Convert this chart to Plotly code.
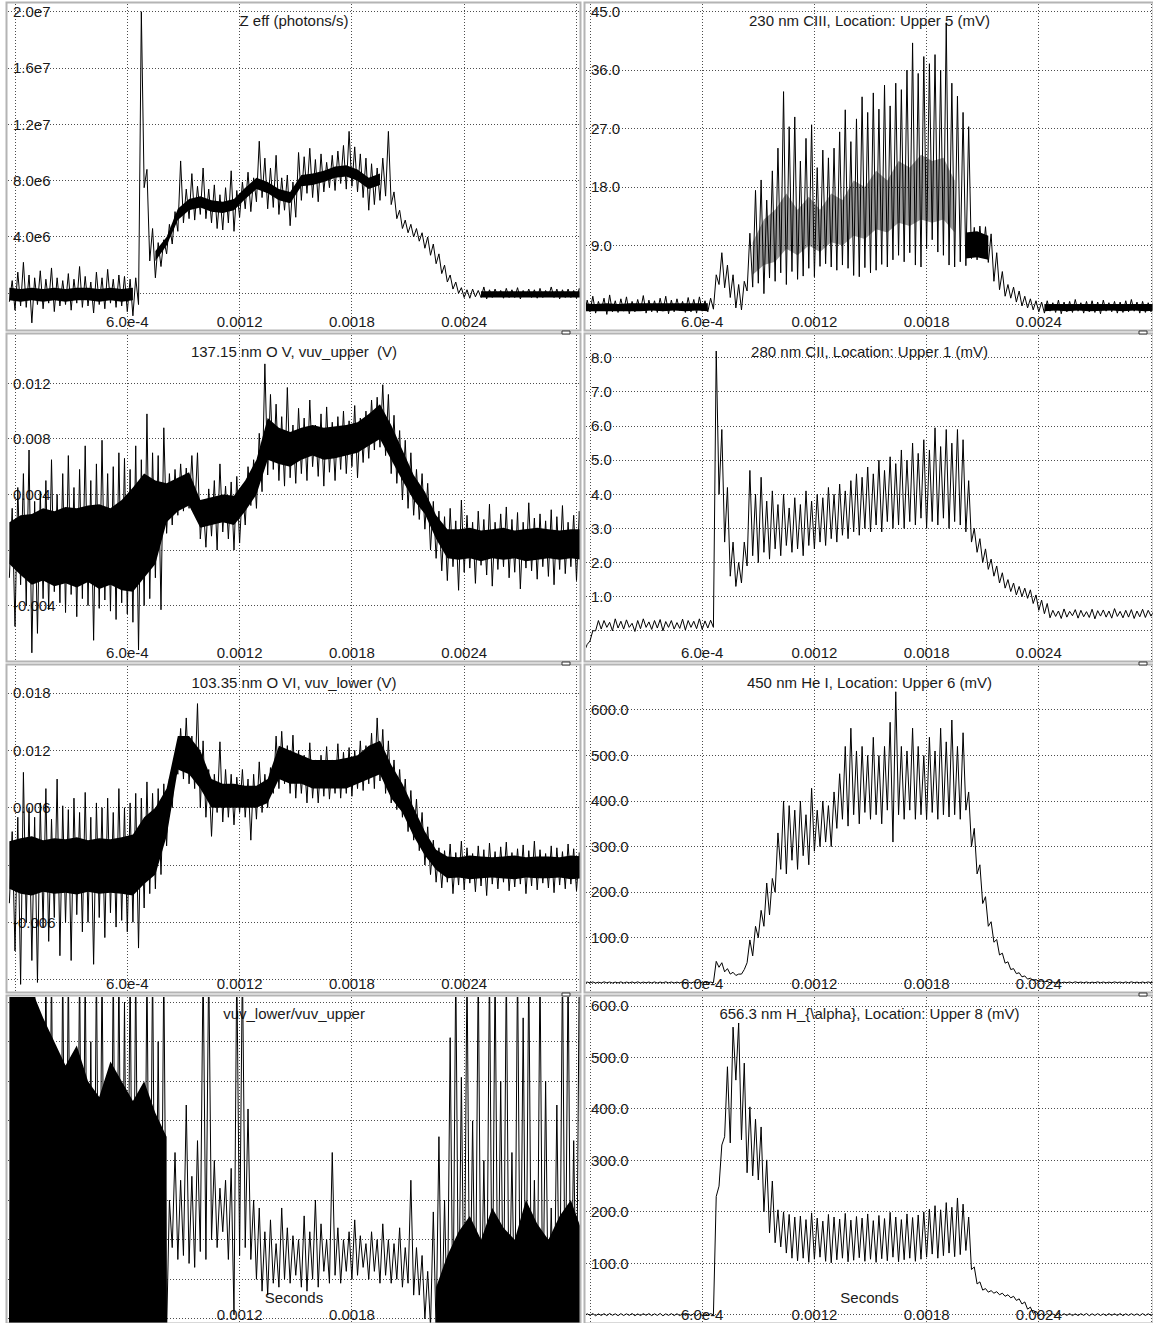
import plotly.graph_objects as go

W, H = 1153, 1323
FONT = "Liberation Sans, Arial, sans-serif"

# ---- sampling grids (seconds) ----
T0, DT = -3e-5, 3e-5      # min/max decimated samples: value pairs (lo, hi) per bin
CT0, CDT = -3e-5, 6e-5    # dense-core envelope grid

# ---------------- Z eff (photons/s), in 1e6 ----------------
zeff_lo = [-0.6, -1.2, -0.9, -1.0, -2.1, -0.8, -1.1, -0.7, -1.3, -0.9, -0.8, -1.2, -0.7, -1.0, -0.9, -1.4, -0.8, -1.1, -0.7, -1.0, -0.9, -1.3, -1.6,
           -0.8, 7.5, 2.3, 1.1, 1.9, 2.8, 3.5, 4.4, 5.0, 5.3, 5.2, 5.6, 5.3, 5.0, 4.6, 4.5, 5.0, 4.4, 5.4, 6.0, 5.8, 6.5, 6.8, 6.0, 6.1, 5.6, 5.9, 4.8,
           5.4, 6.6, 7.1, 6.8, 6.5, 7.2, 7.5, 7.3, 7.8, 7.4, 7.6, 7.2, 6.8, 5.9, 6.3, 6.6, 6.9, 6.3, 5.3, 4.6, 4.3, 4.0, 3.7, 3.2, 2.7, 2.1, 1.4, 0.8,
           0.3, 0.0,
           -0.3, -0.35, -0.25, -0.3, -0.4, -0.3, -0.25, -0.35, -0.3, -0.3, -0.4, -0.25, -0.3, -0.35, -0.3, -0.25, -0.3, -0.4, -0.3, -0.3, -0.35, -0.3]
zeff_hi = [0.9, 1.5, 2.2, 1.3, 1.1, 1.6, 1.0, 1.8, 1.1, 0.9, 1.4, 1.0, 1.9, 1.2, 0.8, 1.5, 1.1, 1.7, 1.0, 1.3, 1.2, 1.0, 1.1,
           20.0, 8.8, 4.6, 3.6, 3.8, 4.9, 5.8, 9.4, 7.4, 8.5, 7.6, 8.9, 7.4, 7.7, 7.0, 7.5, 8.7, 7.3, 7.9, 8.6, 8.2, 10.8, 9.6, 8.9, 9.8, 8.2, 8.4,
           7.9, 10.0, 9.7, 10.3, 9.5, 9.9, 9.3, 9.8, 10.1, 10.5, 11.5, 10.4, 9.9, 9.6, 9.2, 8.9, 9.6, 11.5, 7.2, 5.9, 5.2, 4.9, 4.6, 4.3, 4.0, 3.5,
           2.8, 2.0, 1.3, 0.8, 0.4,
           0.25, 0.3, 0.2, 0.45, 0.25, 0.3, 0.2, 0.35, 0.25, 0.4, 0.2, 0.3, 0.25, 0.35, 0.2, 0.45, 0.3, 0.25, 0.3, 0.2, 0.35, 0.25]
zeff_core_lo = [-0.5, -0.6, -0.5, -0.6, -0.5, -0.6, -0.5, -0.5, -0.6, -0.5, -0.6, -0.5, None,
                2.3, 3.4, 5.2, 5.9, 6.1, 5.8, 5.7, 5.9, 6.7, 7.4, 7.1, 6.6, 6.4, 7.6, 7.7, 7.9, 8.2, 8.3, 8.0, 7.4, 7.7,
                None, None, None, None, None, None, None, None,
                -0.3, -0.3, -0.3, -0.3, -0.3, -0.3, -0.3, -0.3, -0.3, -0.3]
zeff_core_hi = [0.4, 0.3, 0.4, 0.3, 0.4, 0.3, 0.4, 0.4, 0.3, 0.4, 0.3, 0.4, None,
                3.0, 4.0, 6.0, 6.7, 6.9, 6.6, 6.5, 6.7, 7.5, 8.2, 7.9, 7.4, 7.2, 8.4, 8.5, 8.7, 9.0, 9.1, 8.8, 8.2, 8.5,
                None, None, None, None, None, None, None, None,
                0.15, 0.15, 0.15, 0.15, 0.15, 0.15, 0.15, 0.15, 0.15, 0.15]

# ---------------- 230 nm CIII, Upper 5 (mV) ----------------
c3_lo = [-1.5, -1.2, -1.4, -1.0, -1.6, -1.2, -1.3, -1.1, -1.5, -1.2, -1.0, -1.4, -1.2, -1.3, -1.1, -1.5, -1.2, -1.0, -1.3, -1.2, -1.4, -1.1, -1.2,
         -0.8, 3.0, 2.5, 1.0, -0.6, -0.9, 2.0, 2.6, 3.2, 1.6, 4.0, 3.5, 4.8, 3.0, 5.0, 3.8, 4.3, 5.5, 4.2, 5.8, 6.2, 5.7, 5.2, 6.0, 5.5, 4.4,
         4.2, 5.6, 4.8, 5.2, 6.1, 5.7, 6.8, 7.5, 6.5, 7.9, 6.0, 5.7, 8.5, 9.9, 8.0, 7.5, 6.0, 5.7, 6.5, 5.9, 7.0, 6.8, 7.1, 6.4, 3.5, 2.2, 1.2,
         0.9, 0.3, -0.3, -0.6, -0.9,
         -1.2, -1.4, -1.1, -1.3, -1.5, -1.2, -1.3, -1.1, -1.4, -1.2, -1.3, -1.5, -1.1, -1.2, -1.4, -1.3, -1.2, -1.1, -1.4, -1.3, -1.2, -1.3]
c3_hi = [0.6, 1.2, 0.4, 0.9, 1.4, 0.5, 0.8, 1.1, 0.4, 0.7, 1.3, 0.6, 0.5, 0.9, 1.2, 0.6, 0.8, 0.4, 1.0, 0.7, 1.1, 0.5, 0.9,
         4.5, 7.9, 6.0, 4.5, 3.0, 3.5, 10.9, 17.5, 19.1, 16.0, 20.5, 24.0, 32.7, 27.3, 28.8, 22.0, 25.5, 27.6, 21.0, 23.7, 22.5, 24.0, 26.5,
         29.9, 25.0, 28.5, 31.9, 29.5, 32.5, 30.0, 33.7, 30.5, 34.0, 33.0, 36.0, 40.2, 35.5, 38.1, 37.0, 38.4, 36.0, 43.3, 34.0, 32.0, 29.5,
         27.3, 11.8, 12.0, 11.9, 10.8, 7.9, 5.0, 3.0, 2.6, 2.0, 1.2, 0.8, 0.5,
         0.3, 0.5, 0.2, 0.6, 0.3, 0.4, 0.7, 0.2, 0.4, 0.5, 0.3, 0.6, 0.2, 0.4, 0.3, 0.5, 0.7, 0.3, 0.4, 0.2, 0.5, 0.3]
c3_core_lo = [-1.1, -1.0, -1.1, -1.0, -1.1, -1.1, -1.0, -1.1, -1.0, -1.1, -1.0, -1.1,
              None, None, None, None, None, None, None, None, None, None, None, None, None, None, None, None, None, None, None, None,
              None, None, 7.0, 7.2, 6.8, None, None, None, None,
              -1.1, -1.0, -1.1, -1.0, -1.1, -1.1, -1.0, -1.1, -1.0, -1.1, -1.0]
c3_core_hi = [0.1, 0.0, 0.1, 0.0, 0.1, 0.1, 0.0, 0.1, 0.0, 0.1, 0.0, 0.1,
              None, None, None, None, None, None, None, None, None, None, None, None, None, None, None, None, None, None, None, None,
              None, None, 11.0, 11.2, 10.5, None, None, None, None,
              0.0, 0.0, 0.0, 0.0, 0.0, 0.0, 0.0, 0.0, 0.0, 0.0, 0.0]
# where the oscillation traces overlap most densely
c3_dense_lo = [None] * 15 + [4.5, 6.0, 6.5, 8.5, 7.5, 9.0, 8.0, 9.5, 9.0, 10.5, 10.0, 11.5, 11.0, 12.5, 12.0, 13.0, 12.5,
                             13.0, 11.0] + [None] * 18
c3_dense_hi = [None] * 15 + [9.5, 13.0, 14.5, 17.0, 14.5, 16.5, 14.5, 17.0, 16.0, 19.0, 18.0, 20.5, 19.0, 22.0, 21.0, 23.0,
                             22.0, 22.5, 19.0] + [None] * 18

# ---------------- 137.15 nm O V, vuv_upper (V), in 1e-3 ----------------
ov_lo = [-2.0, -5.5, -2.5, -4.0, -7.4, -6.0, -3.5, -4.3, -3.0, -3.8, -4.5, -3.2, -4.8, -3.5, -4.0, -6.5, -4.2, -3.6, -4.4, -5.0, -3.8, -4.6,
         -5.2, -7.2, -4.0, -3.5, -2.0, -4.3, 1.2, 1.8, 2.5, 2.8, 3.0, 2.6, 0.8, 0.2, 1.0, 0.0, 1.3, 0.8, 0.0, 0.5, 1.8, 3.2, 3.0, 4.2, 5.4,
         5.8, 5.0, 4.6, 5.2, 4.8, 5.5, 5.0, 6.0, 5.3, 4.6, 5.6, 5.0, 5.8, 5.5, 6.0, 5.2, 6.3, 6.6, 7.2, 7.4, 6.8, 5.5, 4.8, 3.6, 3.0, 2.5,
         2.2, 1.5, 0.0, -0.6,
         -1.5, -2.2, -1.2, -2.9, -1.6, -1.3, -2.4, -1.1, -1.8, -2.6, -1.4, -1.2, -2.0, -1.6, -2.8, -1.3, -1.5, -2.1, -1.2, -1.9, -2.5, -1.4,
         -1.7, -1.2, -2.2, -1.5]
ov_hi = [3.0, 4.5, 5.5, 7.2, 3.5, 4.2, 5.0, 6.5, 4.0, 5.5, 6.8, 4.5, 5.8, 7.5, 5.0, 6.2, 7.9, 5.5, 6.0, 7.0, 6.6, 5.8, 7.5, 6.5, 9.8,
         7.0, 6.8, 8.8, 5.5, 5.8, 6.2, 5.9, 6.8, 7.0, 3.4, 4.4, 5.0, 6.2, 4.6, 4.9, 5.3, 4.5, 6.0, 6.5, 8.4, 13.4, 11.2, 10.5, 9.6, 11.7,
         9.0, 10.2, 9.5, 10.8, 9.0, 9.8, 10.3, 9.2, 9.6, 10.0, 9.3, 10.4, 9.5, 10.0, 10.8, 11.0, 11.9, 11.2, 9.7, 8.6, 7.9, 7.0, 5.8, 5.5,
         4.8, 3.5, 2.8,
         2.4, 3.0, 2.1, 3.6, 2.5, 2.0, 2.8, 2.2, 3.3, 2.0, 2.6, 3.1, 2.2, 2.7, 2.0, 3.4, 2.3, 2.6, 2.1, 2.9, 2.4, 3.2, 2.0, 2.5, 2.8, 2.2]
ov_core_lo = [-1.0, -1.8, -2.5, -2.2, -2.6, -2.4, -2.7, -2.3, -2.8, -2.5, -2.9, -3.0, -2.0, -1.0, 2.0, 2.8, 3.2, 1.6, 1.8, 2.0, 1.8,
              2.8, 4.0, 6.5, 6.2, 6.0, 6.5, 6.8, 6.5, 6.6, 6.8, 7.0, 7.5, 8.0, 6.5, 5.0, 3.6, 2.6, 0.8, -0.6,
              -0.7, -0.6, -0.8, -0.6, -0.7, -0.6, -0.8, -0.7, -0.6, -0.7, -0.6, -0.7]
ov_core_hi = [2.0, 2.5, 2.6, 3.0, 2.8, 3.1, 3.0, 3.2, 3.3, 3.0, 3.6, 4.5, 5.5, 5.0, 4.8, 5.2, 5.6, 3.6, 3.8, 4.0, 3.9, 5.0, 6.5,
              9.5, 8.8, 8.5, 8.8, 9.0, 8.8, 8.9, 9.0, 9.2, 9.8, 10.5, 9.0, 7.2, 5.4, 4.2, 2.5, 1.5,
              1.5, 1.6, 1.4, 1.5, 1.6, 1.4, 1.5, 1.6, 1.5, 1.4, 1.5, 1.5]

# ---------------- 280 nm CII, Upper 1 (mV) ----------------
c2_lo = [-0.6, -0.3, 0.0,
         0.05, 0.1, 0.0, 0.08, 0.05, 0.1, -0.02, 0.06, 0.1, 0.04, 0.08, 0.0, 0.1, 0.05, 0.07, 0.02, 0.1, 0.06, 0.04, 0.08,
         0.1, 4.0, 2.6, 1.6, 1.3, 1.4, 1.9, 2.2, 2.0, 2.3, 2.1, 2.4, 2.2, 2.5, 2.3, 2.4, 2.2, 2.5, 2.4, 2.6, 2.5, 2.7, 2.6, 2.8, 2.7,
         2.9, 2.8, 3.0, 2.9, 3.1, 2.9, 3.2, 3.0, 3.1, 3.0, 3.2, 3.1, 3.3, 3.0, 3.2, 3.1, 3.3, 3.0, 3.2, 3.1, 2.9, 2.6, 2.3, 2.0, 1.8,
         1.6, 1.4, 1.25, 1.15, 1.05, 1.0, 0.95, 0.8, 0.6, 0.5,
         0.38, 0.42, 0.36, 0.4, 0.44, 0.37, 0.41, 0.39, 0.35, 0.43, 0.4, 0.37, 0.42, 0.38, 0.4, 0.36, 0.41, 0.39, 0.43, 0.38]
c2_hi = [-0.4, 0.0, 0.3,
         0.3, 0.25, 0.35, 0.28, 0.32, 0.22, 0.3, 0.35, 0.26, 0.3, 0.33, 0.27, 0.3, 0.24, 0.34, 0.3, 0.28, 0.35, 0.29, 0.31,
         8.2, 5.9, 4.2, 2.6, 2.0, 2.6, 4.7, 4.0, 4.5, 3.8, 4.1, 3.7, 4.0, 3.6, 3.9, 3.7, 4.1, 3.8, 4.0, 3.9, 4.2, 4.0, 4.3, 4.1, 4.4,
         4.6, 4.5, 4.8, 4.6, 5.0, 4.7, 5.1, 4.9, 5.3, 5.0, 5.5, 5.2, 5.6, 5.3, 5.95, 5.4, 5.9, 5.5, 5.9, 5.6, 4.4, 3.0, 2.7, 2.4, 2.1,
         1.9, 1.7, 1.5, 1.4, 1.3, 1.25, 1.2, 1.05, 0.9, 0.8,
         0.6, 0.58, 0.64, 0.57, 0.62, 0.6, 0.56, 0.63, 0.59, 0.61, 0.58, 0.65, 0.57, 0.6, 0.62, 0.58, 0.63, 0.6, 0.57, 0.61]

# ---------------- 103.35 nm O VI, vuv_lower (V), in 1e-3 ----------------
ovi_lo = [-4.0, -9.0, -12.5, -6.0, -10.0, -12.3, -6.5, -8.0, -5.5, -9.5, -6.0, -10.0, -5.2, -7.0, -6.0, -10.4, -5.5, -7.6, -5.0,
          -6.5, -5.8, -7.0, -6.0, -8.7, -4.5, -3.0, -2.5, -1.0, 2.0, 6.0, 9.5, 9.0, 8.5, 8.0, 6.0, 5.0, 3.0, 5.5, 4.5, 5.0, 4.2, 5.5,
          5.0, 2.6, 4.8, 5.5, 6.0, 7.5, 8.0, 8.5, 7.5, 7.0, 7.5, 6.5, 7.0, 6.5, 7.2, 6.9, 7.5, 7.0, 7.5, 7.2, 8.0, 7.8, 8.5, 8.0, 8.8,
          7.5, 6.5, 5.8, 5.0, 3.5, 2.6, 1.5, 0.0, -1.0, -1.8,
          -2.4, -1.8, -3.0, -2.1, -2.6, -1.9, -2.8, -2.2, -3.2, -2.0, -2.5, -1.8, -2.7, -2.3, -2.0, -3.0, -2.2, -2.6, -1.9, -2.4,
          -2.9, -2.1, -2.5, -2.0, -2.7, -2.3]
ovi_hi = [3.5, 5.0, 9.7, 6.0, 5.0, 6.5, 8.0, 4.8, 9.0, 6.2, 5.8, 7.0, 5.5, 7.6, 5.0, 6.5, 6.0, 7.0, 5.5, 8.0, 6.0, 6.5, 7.5, 7.0,
          8.7, 7.5, 8.0, 8.5, 9.0, 11.5, 14.3, 15.4, 13.5, 16.9, 13.0, 10.0, 9.5, 12.9, 10.0, 9.5, 9.2, 10.0, 9.0, 9.5, 10.8, 9.5,
          10.2, 13.5, 14.0, 12.5, 13.6, 12.0, 11.5, 12.8, 11.0, 11.5, 12.4, 11.0, 12.7, 11.8, 12.3, 12.0, 13.0, 12.5, 13.8, 15.4, 14.2,
          13.0, 11.0, 10.0, 9.0, 7.8, 6.9, 5.5, 4.0, 2.6, 1.8,
          1.5, 2.2, 1.3, 2.5, 1.8, 1.2, 2.0, 1.6, 2.3, 1.4, 1.9, 2.4, 1.3, 1.7, 2.1, 1.5, 2.5, 1.6, 1.2, 2.0, 1.8, 1.4, 2.2, 1.7, 1.3, 1.9]
ovi_core_lo = [-2.5, -3.0, -3.2, -2.8, -3.0, -2.9, -3.1, -2.8, -3.0, -2.9, -3.0, -3.2, -2.0, -1.0, 3.0, 10.0, 9.5, 8.0, 6.0, 6.0,
               6.0, 6.0, 6.0, 6.5, 9.0, 8.5, 8.5, 8.0, 8.0, 8.0, 8.0, 8.5, 9.0, 9.5, 7.0, 5.5, 3.0, 1.0, -0.5,
               -1.4, -1.3, -1.5, -1.4, -1.3, -1.4, -1.5, -1.3, -1.4, -1.4, -1.3, -1.5, -1.4]
ovi_core_hi = [2.5, 2.8, 3.0, 2.6, 2.8, 2.7, 2.9, 2.6, 2.8, 2.7, 2.9, 3.2, 5.0, 6.0, 8.0, 13.5, 13.5, 12.0, 9.0, 8.5, 8.5, 8.3,
               8.3, 9.0, 12.5, 12.0, 11.5, 11.0, 11.0, 11.0, 11.2, 11.5, 12.5, 13.0, 10.5, 8.5, 6.0, 3.5, 1.6,
               0.9, 0.8, 1.0, 0.9, 0.8, 0.9, 1.0, 0.8, 0.9, 0.9, 0.8, 1.0, 0.9]

# ---------------- 450 nm He I, Upper 6 (mV) ----------------
he_lo = [0.5, 0.8, 0.4, 0.6, 0.9, 0.5, 0.7, 0.4, 0.8, 0.6, 0.5, 0.9, 0.6, 0.4, 0.7, 0.8, 0.5, 0.6, 0.9, 0.4, 0.7, 0.6, 0.8,
         1.0, 35, 25, 20, 17, 20, 45, 60, 100, 125, 150, 200, 250, 240, 270, 250, 280, 260, 290, 300, 310, 300, 340, 360, 345, 370,
         350, 375, 360, 370, 350, 380, 310, 370, 360, 380, 360, 370, 360, 375, 360, 370, 365, 370, 360, 380, 300, 240, 175, 125, 90,
         62, 44, 30, 21, 14, 9, 6, 4, 3,
         1.0, 1.2, 0.8, 1.1, 0.9, 1.3, 1.0, 0.8, 1.2, 1.0, 0.9, 1.1, 1.3, 0.8, 1.0, 1.2, 0.9, 1.1, 1.0, 0.8]
he_hi = [2.5, 2.8, 2.3, 3.0, 2.6, 2.4, 2.9, 2.5, 2.7, 3.0, 2.4, 2.6, 2.8, 2.5, 3.0, 2.6, 2.4, 2.9, 2.7, 2.5, 2.8, 2.6, 2.4,
         48, 45, 32, 24, 20, 30, 95, 125, 160, 220, 230, 330, 400, 390, 380, 400, 370, 428, 380, 400, 390, 420, 460, 520, 560, 510,
         520, 500, 540, 500, 520, 573, 640, 520, 510, 560, 520, 500, 540, 510, 560, 530, 578, 520, 550, 420, 340, 260, 190, 135, 96,
         66, 47, 32, 23, 16, 11, 8, 5, 4,
         2.5, 2.8, 2.4, 2.6, 3.0, 2.5, 2.7, 2.3, 2.9, 2.6, 2.4, 2.8, 2.5, 2.7, 3.0, 2.4, 2.6, 2.8, 2.5, 2.7]

# ---------------- vuv_lower / vuv_upper ----------------
ratio_lo = [-0.3] * 28 + [
    -0.3, 1.8, 1.5, 1.6, 1.4, 1.3, 1.7, 1.5, 2.0, 1.8, 2.2, 1.5, 0.1, 1.6, 1.8, 1.5, 1.0, 0.7, 0.6, 0.9, 0.8, 1.0, 0.9, 1.1, 0.8, 0.7,
    1.0, 0.8, 1.2, 0.9, 1.1, 0.9, 1.2, 1.0, 1.1, 1.3, 1.0, 1.2, 0.9, 1.1, 0.9, 1.0, 0.8, 0.9, 0.6, 0.6, 0.0, -0.2, -0.3] + [-0.3] * 26
ratio_hi = [9.0, 9.0, 6.5, 9.0, 9.0, 7.5, 9.0, 9.0, 5.5, 9.0, 9.0, 6.0, 9.0, 9.0, 7.0, 9.0, 9.0, 4.5, 9.0, 9.0, 8.0, 9.0, 9.0, 5.0,
            9.0, 9.0, 7.0, 9.0, 3.0, 4.2, 3.5, 5.4, 3.6, 4.5, 9.0, 9.0, 4.0, 3.3, 3.5, 3.8, 9.0, 9.0, 5.3, 3.0, 2.8, 2.2, 2.5, 1.9,
            2.8, 2.3, 2.1, 2.0, 2.6, 2.2, 3.0, 2.4, 2.0, 4.2, 2.3, 2.0, 2.2, 2.5, 2.1, 1.9, 2.2, 2.0, 2.4, 2.0, 1.9, 2.3, 1.8, 3.5,
            1.8, 1.6, 1.2, 2.7, 4.6, 3.0, 7.1, 9.0, 6.1, 9.0, 5.0, 9.0, 4.0, 9.0, 9.0, 6.0, 9.0, 4.2, 9.0, 7.6, 9.0, 3.5, 9.0, 6.0,
            2.8, 5.4, 9.0, 9.0, 4.5, 9.0, 4.0]
ratio_core_lo = [-0.2] * 15 + [None] * 23 + [-0.2] * 14
ratio_core_hi = [8.3, 8.3, 8.3, 7.6, 7.0, 6.4, 6.9, 6.0, 5.6, 6.5, 6.0, 5.5, 6.0, 5.2, 4.6] + [None] * 23 + \
                [0.8, 1.6, 2.2, 2.6, 2.0, 2.8, 2.3, 2.0, 3.0, 2.4, 2.0, 2.6, 3.0, 2.2]

# ---------------- 656.3 nm H_alpha, Upper 8 (mV) ----------------
ha_lo = [-1.5, -1.0, -1.8, -1.2, -1.5, -0.9, -1.6, -1.3, -1.1, -1.7, -1.4, -1.0, -1.5, -1.2, -1.8, -1.1, -1.4, -1.6, -1.0, -1.3,
         -1.5, -1.2, -1.0,
         0, 250, 346, 334, 456, 340, 276, 270, 262, 200, 159, 140, 132, 120, 110,
         105, 110, 102, 108, 112, 104, 101, 107, 110, 103, 106, 111, 104, 108, 102, 109, 105, 112, 103, 107, 110, 104, 108,
         112, 118, 110, 115, 120, 113, 117, 125,
         88, 60, 48, 44, 42, 39, 36, 33, 28, 21, 11, 3,
         -1.5, -1.2, -1.0, -1.6, -1.3, -1.1, -1.5, -1.4, -1.0, -1.7, -1.2, -1.3, -1.5, -1.1, -1.4, -1.6, -1.2, -1.0, -1.5, -1.3,
         -1.1, -1.4]
ha_hi = [2.0, 2.4, 1.8, 2.2, 2.6, 1.9, 2.3, 2.0, 2.5, 1.8, 2.2, 2.4, 2.0, 2.6, 1.9, 2.3, 2.1, 2.5, 1.8, 2.2, 2.4, 2.0, 2.3,
         230, 330, 482, 559, 567, 489, 404, 380, 365, 301, 260, 204, 200, 195, 190,
         192, 185, 198, 188, 182, 195, 190, 186, 197, 184, 191, 188, 196, 183, 193, 187, 199, 190, 185, 196, 189, 194, 200,
         205, 212, 204, 218, 209, 227, 215, 190,
         93, 64, 51, 47, 45, 42, 39, 36, 31, 25, 15, 7,
         2.0, 2.3, 1.8, 2.5, 2.1, 2.4, 1.9, 2.2, 2.6, 2.0, 2.3, 1.8, 2.4, 2.1, 2.5, 2.0, 2.2, 1.9, 2.4, 2.1, 2.3, 2.0]

# ---------------- axis ticks ----------------
x_ticks = [0.0, 6e-4, 1.2e-3, 1.8e-3, 2.4e-3, 3.0e-3]
x_labels = ["", "6.0e-4", "0.0012", "0.0018", "0.0024", ""]

zeff_ticks = [0, 4e6, 8e6, 1.2e7, 1.6e7, 2.0e7]
zeff_labels = ["", "4.0e6", "8.0e6", "1.2e7", "1.6e7", "2.0e7"]
c3_ticks = [0, 9, 18, 27, 36, 45]
c3_labels = ["", "9.0", "18.0", "27.0", "36.0", "45.0"]
ov_ticks = [-0.004, 0, 0.004, 0.008, 0.012]
ov_labels = ["-0.004", "", "0.004", "0.008", "0.012"]
c2_ticks = [0, 1, 2, 3, 4, 5, 6, 7, 8]
c2_labels = ["", "1.0", "2.0", "3.0", "4.0", "5.0", "6.0", "7.0", "8.0"]
ovi_ticks = [-0.012, -0.006, 0, 0.006, 0.012, 0.018]
ovi_labels = ["", "-0.006", "", "0.006", "0.012", "0.018"]
he_ticks = [0, 100, 200, 300, 400, 500, 600]
he_labels = ["", "100.0", "200.0", "300.0", "400.0", "500.0", "600.0"]
ratio_ticks = [0, 1, 2, 3, 4, 5, 6, 7, 8]
ratio_labels = ["", "1", "2", "3", "4", "5", "6", "7", "8"]
ha_ticks = [0, 100, 200, 300, 400, 500, 600]
ha_labels = ["", "100.0", "200.0", "300.0", "400.0", "500.0", "600.0"]

# ---------------- panel layout (pixels) ----------------
COLS = [(8, 580), (586, 1153)]
ROWS = [(4, 330), (335, 661), (666, 992), (997, 1323)]
XRANGE = [(-3.74e-5, 3.0187e-3), (-2.14e-5, 3.0107e-3)]

SOLID = "black"
DENSE = "rgba(0,0,0,0.4)"

panels = [
    dict(r=0, c=0, title="Z eff (photons/s)", lo=zeff_lo, hi=zeff_hi,
         cores=[(zeff_core_lo, zeff_core_hi, SOLID)],
         scale=1e6, yr=(-2.607e6, 2.0547e7), yt=zeff_ticks, yl=zeff_labels),
    dict(r=0, c=1, title="230 nm CIII, Location: Upper 5 (mV)", lo=c3_lo, hi=c3_hi,
         cores=[(c3_core_lo, c3_core_hi, SOLID), (c3_dense_lo, c3_dense_hi, DENSE)],
         scale=1.0, yr=(-4.0, 46.19), yt=c3_ticks, yl=c3_labels),
    dict(r=1, c=0, title="137.15 nm O V, vuv_upper\u00a0 (V)", lo=ov_lo, hi=ov_hi,
         cores=[(ov_core_lo, ov_core_hi, SOLID)],
         scale=1e-3, yr=(-7.99e-3, 15.48e-3), yt=ov_ticks, yl=ov_labels),
    dict(r=1, c=1, title="280 nm CII, Location: Upper 1 (mV)", lo=c2_lo, hi=c2_hi, cores=[],
         scale=1.0, yr=(-0.886, 8.67), yt=c2_ticks, yl=c2_labels),
    dict(r=2, c=0, title="103.35 nm O VI, vuv_lower (V)", lo=ovi_lo, hi=ovi_hi,
         cores=[(ovi_core_lo, ovi_core_hi, SOLID)],
         scale=1e-3, yr=(-13.3e-3, 20.84e-3), yt=ovi_ticks, yl=ovi_labels),
    dict(r=2, c=1, title="450 nm He I, Location: Upper 6 (mV)", lo=he_lo, hi=he_hi, cores=[],
         scale=1.0, yr=(-19.3, 696.6), yt=he_ticks, yl=he_labels),
    dict(r=3, c=0, title="vuv_lower/vuv_upper", lo=ratio_lo, hi=ratio_hi,
         cores=[(ratio_core_lo, ratio_core_hi, SOLID)],
         scale=1.0, yr=(-0.104, 8.127), yt=ratio_ticks, yl=ratio_labels),
    dict(r=3, c=1, title="656.3 nm H_{\\alpha}, Location: Upper 8 (mV)", lo=ha_lo, hi=ha_hi, cores=[],
         scale=1.0, yr=(-15.9, 617.5), yt=ha_ticks, yl=ha_labels),
]


def zigzag(lo, hi, scale):
    xs, ys = [], []
    for k, (a, b) in enumerate(zip(lo, hi)):
        t = T0 + k * DT
        xs += [t, t + DT / 2]
        ys += [a * scale, b * scale]
    return xs, ys


def core_segments(clo, chi, scale):
    segs, cur = [], []
    for j, (a, b) in enumerate(zip(clo, chi)):
        if a is None:
            if cur:
                segs.append(cur)
                cur = []
        else:
            cur.append((CT0 + j * CDT, a * scale, b * scale))
    if cur:
        segs.append(cur)
    out = []
    for seg in segs:
        xs = [s[0] for s in seg] + [s[0] for s in reversed(seg)]
        ys = [s[2] for s in seg] + [s[1] for s in reversed(seg)]
        out.append((xs, ys))
    return out


fig = go.Figure()
layout = dict(width=W, height=H, margin=dict(l=0, r=0, t=0, b=0, autoexpand=False),
              paper_bgcolor="white", plot_bgcolor="white",
              showlegend=False, hovermode=False, font=dict(family=FONT, size=15, color="#1a1a1a"))
shapes = []
GRID = dict(showgrid=True, gridcolor="#4d4d4d", gridwidth=1, griddash="1px,2px", zeroline=False, showline=False,
            ticks="", layer="below traces", fixedrange=True, ticklabeloverflow="allow", automargin=False)

for i, p in enumerate(panels, start=1):
    sfx = "" if i == 1 else str(i)
    xa, ya = "x" + sfx, "y" + sfx
    x0, x1 = COLS[p["c"]]
    y0, y1 = ROWS[p["r"]]

    for clo, chi, color in p["cores"]:
        for xs, ys in core_segments(clo, chi, p["scale"]):
            fig.add_trace(go.Scatter(x=xs, y=ys, xaxis=xa, yaxis=ya, mode="lines", fill="toself",
                                     fillcolor=color, line=dict(width=0, color=color), hoverinfo="skip"))
    xs, ys = zigzag(p["lo"], p["hi"], p["scale"])
    fig.add_trace(go.Scatter(x=xs, y=ys, xaxis=xa, yaxis=ya, mode="lines",
                             line=dict(color="black", width=1), hoverinfo="skip"))

    layout["xaxis" + sfx] = dict(domain=[x0 / W, x1 / W], anchor=ya, range=list(XRANGE[p["c"]]),
                                 tickvals=x_ticks, ticktext=x_labels, ticklabelposition="inside",
                                 ticklabelstandoff=-3,
                                 tickfont=dict(size=15, color="#1a1a1a"), **GRID)
    layout["yaxis" + sfx] = dict(domain=[1 - y1 / H, 1 - y0 / H], anchor=xa, range=list(p["yr"]),
                                 tickvals=p["yt"], ticktext=p["yl"], ticklabelposition="inside",
                                 ticklabelstandoff=2,
                                 tickfont=dict(size=15, color="#1a1a1a"), **GRID)

    # panel title (kept beneath the traces)
    shapes.append(dict(type="rect", xref=xa + " domain", yref=ya + " domain", x0=0, x1=1, y0=0, y1=1,
                       line=dict(width=0), fillcolor="rgba(0,0,0,0)", layer="below",
                       label=dict(text=p["title"], textposition="top center", padding=7,
                                  font=dict(family=FONT, size=15, color="#1a1a1a"))))
    if p["r"] == 3:
        shapes.append(dict(type="rect", xref=xa + " domain", yref=ya + " domain", x0=0, x1=1, y0=0, y1=1,
                           line=dict(width=0), fillcolor="rgba(0,0,0,0)", layer="below",
                           label=dict(text="Seconds", textposition="bottom center", padding=18,
                                      font=dict(family=FONT, size=15, color="#1a1a1a"))))

    # panel frame
    shapes.append(dict(type="rect", xref="paper", yref="paper", x0=(x0 - 1.5) / W, x1=(x1 + 0.5) / W,
                       y0=1 - (y1 + 0.5) / H, y1=1 - (y0 - 1.5) / H,
                       line=dict(color="#b4b4b4", width=2), fillcolor="rgba(0,0,0,0)", layer="above"))

# small window buttons on the frames
for (bx0, bx1, by0, by1) in [(562, 570, 331, 334), (1139, 1147, 331, 334), (562, 570, 662, 665),
                             (1139, 1147, 662, 665), (562, 570, 993, 996), (1139, 1147, 993, 996)]:
    shapes.append(dict(type="rect", xref="paper", yref="paper", x0=bx0 / W, x1=bx1 / W,
                       y0=1 - by1 / H, y1=1 - by0 / H, line=dict(color="#333333", width=1),
                       fillcolor="white", layer="above"))

layout["shapes"] = shapes
fig.update_layout(**layout)
fig.write_html("out.html")
